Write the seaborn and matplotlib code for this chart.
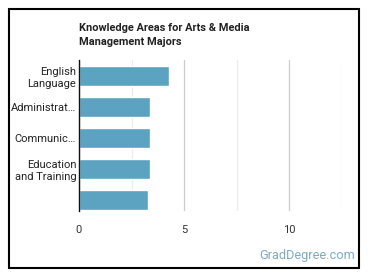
import matplotlib
matplotlib.use("Agg")
import matplotlib.pyplot as plt
import seaborn as sns
import pandas as pd
from matplotlib.patches import Rectangle
from matplotlib.ticker import MultipleLocator

categories = ["English Language", "Administration", "Communications", "Education and Training", "Other"]
tick_labels = ["English\nLanguage", "Administrat…", "Communic…", "Education\nand Training", ""]
values = [4.30, 3.40, 3.40, 3.40, 3.30]
x_ticks = [0, 5, 10]

sns.set_style("white")
plt.rcParams['font.family'] = ['Roboto', 'DejaVu Sans']

df = pd.DataFrame({"cat": categories, "val": values})

fig = plt.figure(figsize=(3.7, 2.78), dpi=100)
ax = fig.add_axes([79/370, 1-211/278, (341.5-79)/370, (211-60)/278])

sns.barplot(data=df, x="val", y="cat", orient="h", color="#5ba3c1", saturation=1,
            width=0.65, ax=ax, zorder=3)

ax.set_xlim(0, 12.5)
ax.set_ylim(4.355, -0.516)
ax.xaxis.set_major_locator(MultipleLocator(5))
ax.xaxis.set_minor_locator(MultipleLocator(2.5))
ax.grid(axis='x', which='major', color='#cccccc', lw=0.9, zorder=0)
ax.grid(axis='x', which='minor', color='#ebebeb', lw=0.9, zorder=0)
ax.set_xticks(x_ticks)
ax.set_yticks(range(len(categories)))
ax.set_yticklabels(tick_labels, fontsize=8, color='#222222', linespacing=1.3)
ax.tick_params(axis='x', labelsize=8, colors='#333333', length=0, pad=10)
ax.tick_params(axis='y', length=0, pad=2)
ax.set_xlabel("")
ax.set_ylabel("")
for s in ["top", "right", "bottom"]:
    ax.spines[s].set_visible(False)
ax.spines["left"].set_color("#111111")
ax.spines["left"].set_linewidth(1.0)
ax.spines["left"].set_zorder(4)

fig.text(79/370, 1-35/278, "Knowledge Areas for Arts & Media\nManagement Majors",
         fontsize=7.9, fontweight='bold', color='#222222', va='center', ha='left',
         linespacing=1.5)
fig.text(355/370, 1-256/278, "GradDegree.com", fontsize=9.2, color='#7eaac4',
         ha='right', va='center')

fig.patches.append(Rectangle((8.5/370, 10/278), (359-8.5)/370, (269.5-10)/278,
                             transform=fig.transFigure, fill=False,
                             edgecolor='black', lw=1.5))

fig.savefig("out.png", dpi=100)
